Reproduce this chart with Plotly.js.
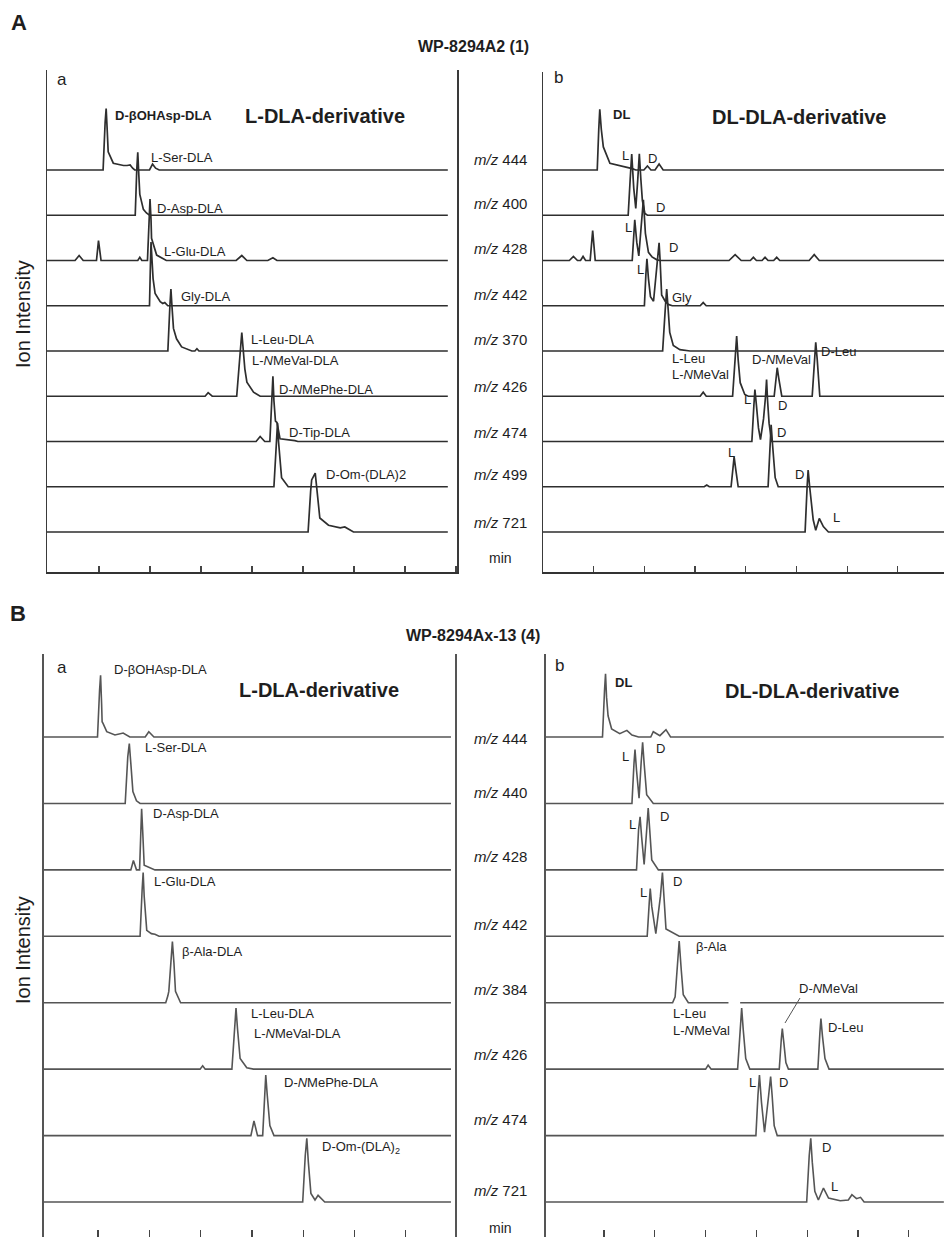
<!DOCTYPE html>
<html>
<head>
<meta charset="utf-8">
<script src="https://cdn.plot.ly/plotly-3.0.1.min.js"></script>
<style>html,body{margin:0;padding:0;background:#fff}#chart{width:944px;height:1237px}</style>
</head>
<body>
<div id="chart"></div>
<script>
// ---------------- DATA (retention time in tick units, relative ion intensity) ----------------
const mzA = ['444', '400', '428', '442', '370', '426', '474', '499', '721'];
const mzB = ['444', '440', '428', '442', '384', '426', '474', '721'];

// Panel A, a: L-DLA-derivative
const Aa_t = [
  [1.08,1.12,1.14,1.16,1.18,1.28,1.48,1.55,1.61,1.66,1.70,1.99,2.05,2.11,2.18],
  [1.71,1.74,1.76,1.78,1.80,1.87,1.93,1.99],
  [0.53,0.61,0.69,0.95,0.99,1.04,1.76,1.80,1.84,1.95,1.98,2.00,2.02,2.03,2.13,2.26,2.32,3.69,3.80,3.90,4.31,4.41,4.49],
  [1.99,2.01,2.02,2.04,2.06,2.10,2.20,2.25,2.29,2.35],
  [2.35,2.39,2.41,2.43,2.46,2.52,2.62,2.82,2.88,2.92,2.96],
  [3.08,3.14,3.22,3.70,3.77,3.80,3.83,3.86,3.90,4.03,4.16],
  [4.08,4.16,4.25,4.35,4.39,4.41,4.43,4.46,4.49,4.55,4.84,4.90],
  [4.43,4.48,4.50,4.52,4.55,4.58,4.71],
  [5.10,5.15,5.17,5.24,5.27,5.33,5.50,5.73,5.82,5.99]
];
const Aa_i = [
  [0,1.05,1.36,0.90,0.40,0.15,0.10,0.10,0.11,0.04,0,0,0.13,0.04,0],
  [0,1.00,1.39,0.90,0.46,0.13,0.05,0],
  [0,0.11,0,0,0.44,0,0,0.07,0,0,1.00,1.36,0.90,0.49,0.12,0.03,0,0,0.11,0,0,0.06,0],
  [0,1.00,1.41,1.00,0.60,0.27,0.09,0.05,0.07,0],
  [0,1.00,1.37,1.00,0.50,0.27,0.09,0,0,0.05,0],
  [0,0.08,0,0,1.00,1.41,1.00,0.60,0.31,0.09,0],
  [0,0.11,0,0,1.00,1.44,0.90,0.45,0.42,0.06,0.02,0],
  [0,1.00,1.41,1.00,0.50,0.20,0],
  [0,0.90,1.15,1.30,1.00,0.31,0.15,0.09,0.11,0]
];

// Panel A, b: DL-DLA-derivative
const Ab_t = [
  [1.07,1.10,1.12,1.15,1.19,1.32,1.55,1.68,1.76,1.83,1.99,2.06,2.13,2.21,2.29,2.37],
  [1.68,1.72,1.75,1.79,1.83,1.87,1.90,1.93,1.96,2.01,2.06],
  [0.52,0.60,0.68,0.74,0.79,0.84,0.93,0.98,1.03,1.76,1.81,1.85,1.89,1.94,1.98,2.02,2.08,2.15,2.24,2.30,3.67,3.79,3.91,4.09,4.15,4.21,4.32,4.38,4.44,4.55,4.61,4.67,5.25,5.35,5.45],
  [2.00,2.03,2.05,2.08,2.12,2.18,2.24,2.27,2.29,2.31,2.34,2.41,2.47,2.55,3.10,3.16,3.22],
  [2.36,2.41,2.44,2.47,2.50,2.57,2.70,2.90],
  [3.10,3.16,3.22,3.74,3.79,3.82,3.85,3.89,3.98,4.05,4.56,4.60,4.62,4.65,4.71,5.31,5.36,5.38,5.41,5.46],
  [4.12,4.16,4.18,4.21,4.25,4.29,4.35,4.39,4.41,4.43,4.46,4.51],
  [3.18,3.23,3.28,3.71,3.75,3.77,3.80,3.85,4.44,4.48,4.50,4.53,4.58,4.64],
  [5.17,5.21,5.23,5.26,5.33,5.38,5.42,5.45,5.53,5.63]
];
const Ab_i = [
  [0,0.90,1.34,0.90,0.51,0.15,0.09,0.06,0.03,0,0,0.09,0,0,0.13,0],
  [0,0.80,1.35,0.60,0.15,0.80,1.36,0.80,0.33,0.04,0],
  [0,0.09,0,0,0.09,0,0,0.66,0,0,0.90,0.40,0.10,0.80,1.34,0.60,0.18,0.08,0.02,0,0,0.13,0,0,0.07,0,0,0.07,0,0,0.07,0,0,0.13,0],
  [0,0.70,1.04,0.60,0.20,0.10,0.80,1.20,1.39,1.00,0.24,0.10,0.03,0,0,0.07,0],
  [0,0.90,1.37,0.90,0.41,0.12,0.03,0],
  [0,0.09,0,0,0.90,1.33,0.80,0.30,0.04,0,0,0.45,0.63,0.40,0,0,0.90,1.19,0.80,0],
  [0,0.80,1.15,0.80,0.30,0.04,0.50,1.00,1.37,0.90,0.40,0],
  [0,0.04,0,0,0.45,0.66,0.40,0,0,1.00,1.37,0.90,0.20,0],
  [0,1.00,1.37,1.00,0.27,0.04,0.20,0.30,0.12,0]
];

// Panel B, a: L-DLA-derivative
const Ba_t = [
  [0.99,1.03,1.05,1.07,1.08,1.10,1.17,1.33,1.49,1.62,1.92,1.99,2.09],
  [1.53,1.58,1.61,1.64,1.68,1.75,1.82],
  [1.64,1.69,1.75,1.81,1.84,1.85,1.87,1.90,2.11],
  [1.82,1.86,1.88,1.90,1.95,2.04,2.11,2.19],
  [2.32,2.36,2.38,2.42,2.45,2.48,2.51,2.61],
  [2.99,3.04,3.09,3.61,3.66,3.69,3.72,3.77,3.90,4.03],
  [3.98,4.04,4.11,4.21,4.25,4.27,4.30,4.35,4.43],
  [4.99,5.04,5.07,5.10,5.15,5.23,5.29,5.42]
];
const Ba_i = [
  [0,0.70,0.93,0.50,0.23,0.20,0.08,0.03,0.06,0,0,0.08,0],
  [0,0.70,0.90,0.60,0.18,0.04,0],
  [0,0.14,0,0,0.70,0.92,0.60,0.07,0],
  [0,0.70,0.96,0.60,0.09,0.04,0.03,0],
  [0,0.10,0.17,0.60,0.92,0.60,0.17,0],
  [0,0.05,0,0,0.70,0.92,0.60,0.16,0.02,0],
  [0,0.22,0,0,0.70,0.91,0.60,0.15,0],
  [0,0.70,0.96,0.60,0.13,0.03,0.10,0]
];

// Panel B, b: DL-DLA-derivative
const Bb_t = [
  [0.97,1.01,1.03,1.05,1.08,1.15,1.31,1.45,1.55,1.68,1.92,1.97,2.10,2.22,2.31],
  [1.55,1.59,1.61,1.64,1.69,1.73,1.76,1.79,1.84,1.97],
  [1.64,1.68,1.71,1.74,1.79,1.84,1.87,1.90,1.94,2.07],
  [1.85,1.89,1.91,1.94,2.02,2.11,2.15,2.18,2.22,2.48],
  [2.35,2.40,2.44,2.48,2.52,2.56,2.66,3.45,null,3.68],
  [3.00,3.05,3.11,3.63,3.68,3.71,3.74,3.79,3.87,4.45,4.49,4.51,4.54,4.58,4.63,5.21,5.25,5.27,5.30,5.35,5.43],
  [3.99,4.03,4.06,4.10,4.16,4.24,4.28,4.31,4.35,4.41],
  [4.99,5.04,5.07,5.10,5.15,5.22,5.32,5.42,5.65,5.81,5.88,5.97,6.05,6.12]
];
const Bb_i = [
  [0,0.70,0.95,0.60,0.32,0.12,0.05,0.10,0.03,0,0,0.08,0.02,0.11,0],
  [0,0.60,0.81,0.50,0.08,0.60,0.92,0.60,0.13,0],
  [0,0.60,0.80,0.50,0.08,0.60,0.93,0.60,0.15,0],
  [0,0.50,0.72,0.45,0.04,0.60,0.96,0.60,0.11,0],
  [0,0.09,0.50,0.93,0.50,0.12,0,0,null,0],
  [0,0.06,0,0,0.70,0.92,0.60,0.16,0,0,0.45,0.61,0.40,0.10,0,0,0.55,0.76,0.50,0.16,0],
  [0,0.60,0.91,0.50,0.05,0.60,0.89,0.60,0.15,0],
  [0,0.70,0.96,0.60,0.16,0.03,0.21,0.06,0.02,0.03,0.11,0.05,0.07,0]
];

// ---------------- FIGURE ----------------
const W = 944, H = 1237;
const F = 'Liberation Sans, Arial, Helvetica, sans-serif';
const px = p => p / W;
const py = p => 1 - p / H;

const panels = [
  {t: Aa_t, i: Aa_i, xa: 'x',  ya: 'y',  x0: -0.02,  x1: 7.84, color: '#2e2e2e', w: 1.7},
  {t: Ab_t, i: Ab_i, xa: 'x2', ya: 'y2', x0: 0,      x1: 7.91, color: '#2e2e2e', w: 1.7},
  {t: Ba_t, i: Ba_i, xa: 'x3', ya: 'y3', x0: -0.053, x1: 7.88, color: '#555555', w: 1.6},
  {t: Bb_t, i: Bb_i, xa: 'x4', ya: 'y4', x0: -0.142, x1: 7.69, color: '#555555', w: 1.6}
];

const traces = [];
panels.forEach(p => {
  p.t.forEach((tt, k) => {
    const x = [p.x0].concat(tt, [p.x1]);
    const y = [0].concat(p.i[k], [0]).map(v => v === null ? null : v - k);
    traces.push({
      type: 'scatter', mode: 'lines', x: x, y: y, xaxis: p.xa, yaxis: p.ya,
      line: {color: p.color, width: p.w}, connectgaps: false, hoverinfo: 'skip', showlegend: false
    });
  });
});

const spA = 45.25, spB = 66.43;
function xax(d0, d1, r0, r1, vals, line) {
  return {domain: [px(d0), px(d1)], range: [r0, r1], showgrid: false, zeroline: false,
    showline: line, linecolor: '#333', linewidth: 1.5, ticks: 'inside', ticklen: 6, tickwidth: 1.2,
    tickcolor: '#444', tickvals: vals, showticklabels: false, fixedrange: true};
}
function yax(top, bottom, b0, sp, mirror, anchor, lc, lw) {
  return {domain: [py(bottom), py(top)], range: [-(bottom - b0) / sp, (b0 - top) / sp],
    showgrid: false, zeroline: false, showline: true, mirror: mirror, linecolor: lc, linewidth: lw,
    ticks: '', showticklabels: false, anchor: anchor, fixedrange: true};
}

const annotations = [];
function ann(text, x, y, size, opt) {
  opt = opt || {};
  annotations.push(Object.assign({text: text, xref: 'paper', yref: 'paper', x: px(x), y: py(y),
    xanchor: 'left', yanchor: 'middle', showarrow: false,
    font: {family: F, size: size, color: '#1e1e1e'}}, opt));
}
// panel letters and titles
ann('<b>A</b>', 9, 23, 22);
ann('<b>B</b>', 8, 613, 22);
ann('<b>WP-8294A2 (1)</b>', 473, 47, 16, {xanchor: 'center'});
ann('<b>WP-8294Ax-13 (4)</b>', 473, 636, 16, {xanchor: 'center'});
ann('Ion Intensity', 23, 314, 20, {xanchor: 'center', textangle: -90});
ann('Ion Intensity', 23, 950, 20, {xanchor: 'center', textangle: -90});
ann('a', 55, 79, 17); ann('b', 552, 78, 17);
ann('a', 55, 667, 17); ann('b', 553, 665, 17);
ann('<b>L-DLA-derivative</b>', 243, 116, 20);
ann('<b>DL-DLA-derivative</b>', 710, 117, 20);
ann('<b>L-DLA-derivative</b>', 237, 690, 20);
ann('<b>DL-DLA-derivative</b>', 723, 691, 20);

// m/z labels in the middle column
const mzAy = [159, 203, 248, 294, 340, 386, 432, 474, 522];
const mzBy = [739, 793, 856, 924, 989, 1054, 1119, 1190];
mzA.forEach((m, k) => ann('<i>m/z</i> ' + m, 500, mzAy[k], 15, {xanchor: 'center'}));
mzB.forEach((m, k) => ann('<i>m/z</i> ' + m, 500, mzBy[k], 15, {xanchor: 'center'}));
ann('min', 500, 558, 14, {xanchor: 'center'});
ann('min', 500, 1228, 14, {xanchor: 'center'});

// peak labels, panel A a
const S = 13;
ann('<b>D-βOHAsp-DLA</b>', 113, 115, S);
ann('L-Ser-DLA', 149, 157, S);
ann('D-Asp-DLA', 155, 208, S);
ann('L-Glu-DLA', 162, 251, S);
ann('Gly-DLA', 179, 296, S);
ann('L-Leu-DLA', 249, 340, S);
ann('L-<i>N</i>MeVal-DLA', 250, 361, S);
ann('D-<i>N</i>MePhe-DLA', 277, 389, S);
ann('D-Tip-DLA', 287, 432, S);
ann('D-Om-(DLA)2', 324, 474, S);
// panel A b
ann('<b>DL</b>', 611, 114, S);
ann('L', 620, 156, S); ann('D', 646, 158, S);
ann('D', 654, 207, S);
ann('L', 623, 227, S); ann('D', 667, 247, S);
ann('L', 635, 269, S);
ann('Gly', 670, 298, S);
ann('L-Leu', 670, 358, S); ann('L-<i>N</i>MeVal', 670, 374, S);
ann('D-<i>N</i>MeVal', 750, 359, S);
ann('D-Leu', 819, 352, S);
ann('L', 742, 400, S); ann('D', 776, 405, S);
ann('D', 775, 432, S);
ann('L', 726, 452, S);
ann('D', 793, 474, S);
ann('L', 831, 518, S);
// panel B a
ann('D-βOHAsp-DLA', 112, 669, S);
ann('L-Ser-DLA', 143, 747, S);
ann('D-Asp-DLA', 151, 813, S);
ann('L-Glu-DLA', 152, 881, S);
ann('β-Ala-DLA', 180, 951, S);
ann('L-Leu-DLA', 249, 1013, S);
ann('L-<i>N</i>MeVal-DLA', 252, 1033, S);
ann('D-<i>N</i>MePhe-DLA', 282, 1082, S);
ann('D-Om-(DLA)<sub>2</sub>', 320, 1147, S);
// panel B b
ann('<b>DL</b>', 613, 682, S);
ann('L', 620, 756, S); ann('D', 654, 748, S);
ann('L', 627, 824, S); ann('D', 658, 816, S);
ann('L', 638, 892, S); ann('D', 671, 881, S);
ann('β-Ala', 694, 946, S);
ann('D-<i>N</i>MeVal', 797, 988, S);
ann('L-Leu', 671, 1013, S); ann('L-<i>N</i>MeVal', 671, 1030, S);
ann('D-Leu', 826, 1027, S);
ann('L', 747, 1082, S); ann('D', 777, 1082, S);
ann('D', 820, 1147, S); ann('L', 829, 1186, S);

const layout = {
  width: W, height: H, margin: {l: 0, r: 0, t: 0, b: 0},
  paper_bgcolor: '#ffffff', plot_bgcolor: 'rgba(0,0,0,0)', showlegend: false,
  font: {family: F, color: '#1e1e1e'},
  xaxis:  xax(47, 457, -0.02, 8.02, [1,2,3,4,5,6,7,8], true),
  yaxis:  yax(70, 572, 170, spA, true, 'x', '#3a3a3a', 1.5),
  xaxis2: Object.assign(xax(543, 944, 0, 7.91, [1,2,3,4,5,6,7], true), {anchor: 'y2'}),
  yaxis2: yax(72, 572, 170, spA, false, 'x2', '#3a3a3a', 1.5),
  xaxis3: Object.assign(xax(44, 455, -0.053, 7.959, [1,2,3,4,5,6,7], false), {anchor: 'y3', ticklen: 7}),
  yaxis3: yax(654, 1237, 737, spB, true, 'x3', '#555', 2),
  xaxis4: Object.assign(xax(546, 944, -0.142, 7.693, [1,2,3,4,5,6,7], false), {anchor: 'y4', ticklen: 7}),
  yaxis4: yax(654, 1237, 737, spB, false, 'x4', '#555', 2),
  annotations: annotations,
  shapes: [
    {type: 'line', xref: 'paper', yref: 'paper', x0: px(800), y0: py(998), x1: px(785), y1: py(1023),
     line: {color: '#555', width: 1}}
  ]
};
layout.xaxis.anchor = 'y';

Plotly.newPlot('chart', traces, layout, {staticPlot: true, displayModeBar: false});
</script>
</body>
</html>
